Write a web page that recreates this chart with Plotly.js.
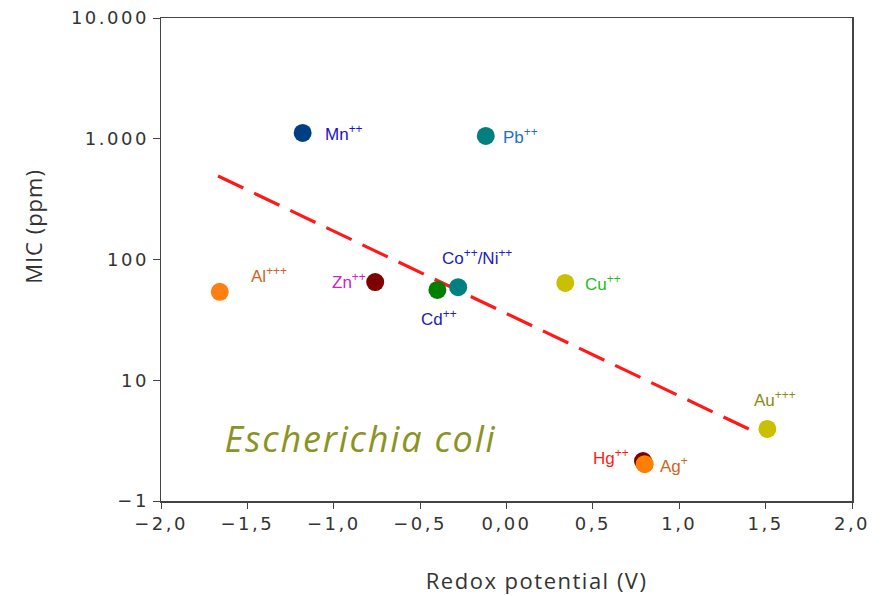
<!DOCTYPE html>
<html>
<head>
<meta charset="utf-8">
<script src="https://cdn.plot.ly/plotly-3.0.1.min.js"></script>
<style>
html,body{margin:0;padding:0;background:#fff;}
#chart{width:890px;height:596px;}
.xtick text, .ytick text {letter-spacing:2.5px;}
</style>
</head>
<body>
<div id="chart"></div>
<script>
// Data
var metals = ["Mn", "Pb", "Al", "Zn", "Cd", "Co/Ni", "Cu", "Au", "Hg", "Ag"];
var labels = ["Mn<sup>++</sup>", "Pb<sup>++</sup>", "Al<sup>+++</sup>", "Zn<sup>++</sup>", "Cd<sup>++</sup>",
              "Co<sup>++</sup>/Ni<sup>++</sup>", "Cu<sup>++</sup>", "Au<sup>+++</sup>", "Hg<sup>++</sup>", "Ag<sup>+</sup>"];
var redox = [-1.18, -0.12, -1.66, -0.76, -0.40, -0.28, 0.34, 1.51, 0.79, 0.80];
var mic = [1117, 1055, 54, 65, 56, 59, 64, 3.95, 2.14, 2.02];
var markerColors = ["#013f85", "#007f7e", "#ff8010", "#7f0000", "#007f00", "#008080", "#c8c000", "#c8c000", "#7a0000", "#ff8000"];
var labelColors = ["#1a10d0", "#1f6fd0", "#c8641e", "#cc20cc", "#1a20c0", "#1a20c0", "#20c020", "#8a8a10", "#ff1a1a", "#d0641e"];
var trendX = [-1.67, 1.414];
var trendY = [492, 3.87];
var xTickVals = [-2, -1.5, -1, -0.5, 0, 0.5, 1, 1.5, 2];
var xTickText = ["\u22122,0", "\u22121,5", "\u22121,0", "\u22120,5", "0,00", "0,5", "1,0", "1,5", "2,0"];
var yTickVals = [1, 10, 100, 1000, 10000];
var yTickText = ["\u22121", "10", "100", "1.000", "10.000"];

// label offsets (style only)
var offsets = [
  {xa:"left", xs:20, ys:0},
  {xa:"left", xs:15, ys:0},
  {xa:"left", xs:29, ys:17},
  {xa:"right", xs:-7, ys:1},
  {xa:"center", xs:2, ys:-28},
  {xa:"center", xs:19, ys:30},
  {xa:"left", xs:18, ys:0},
  {xa:"center", xs:8, ys:30},
  {xa:"right", xs:-12, ys:4},
  {xa:"left", xs:13, ys:-1}
];

var annotations = metals.map(function(m, i){
  return {
    x: redox[i], y: Math.log10(mic[i]), xref:"x", yref:"y",
    text: labels[i], showarrow:false,
    xanchor: offsets[i].xa, yanchor:"middle",
    xshift: offsets[i].xs, yshift: offsets[i].ys,
    font: {family:"Liberation Sans, Arial, sans-serif", size:17, color: labelColors[i]}
  };
});
annotations.push({
  x: 0.11, y: 0.13, xref:"paper", yref:"paper", xanchor:"left", yanchor:"middle",
  text:"<i>Escherichia coli</i>", showarrow:false,
  font:{family:"Open Sans, sans-serif", size:36, color:"#8b9322"}
});
annotations.push({
  x: -0.185, y: 0.569, xref:"paper", yref:"paper", xanchor:"center", yanchor:"middle",
  text:"MIC (ppm)", textangle:-90, showarrow:false,
  font:{family:"Open Sans, sans-serif", size:22, color:"#333333"}
});
annotations.push({
  x: 0.543, y: -0.164, xref:"paper", yref:"paper", xanchor:"center", yanchor:"middle",
  text:"Redox potential (V)", showarrow:false,
  font:{family:"Open Sans, sans-serif", size:22, color:"#333333"}
});

var traces = [
  {
    x: trendX, y: trendY, mode:"lines", type:"scatter",
    line:{color:"#ff1a1a", width:3.2, dash:"28px,12px"}, hoverinfo:"skip"
  },
  {
    x: redox, y: mic, mode:"markers", type:"scatter", text: metals,
    marker:{size:18, color: markerColors, line:{width:0}}
  }
];

var axisFont = {family:"DejaVu Sans, sans-serif", size:18, color:"#333333"};
var layout = {
  width:890, height:596,
  margin:{l:161, r:38, t:18, b:95},
  paper_bgcolor:"#ffffff", plot_bgcolor:"#ffffff",
  showlegend:false,
  xaxis:{
    range:[-2, 2], tickvals:xTickVals, ticktext:xTickText,
    showgrid:false, zeroline:false, showline:true, mirror:true,
    linecolor:"#444", linewidth:1.5, ticks:"outside", ticklen:6, tickcolor:"#444",
    tickfont:axisFont
  },
  yaxis:{
    type:"log", range:[0, 4], tickvals:yTickVals, ticktext:yTickText,
    showgrid:false, zeroline:false, showline:true, mirror:true,
    linecolor:"#444", linewidth:1.5, ticks:"outside", ticklen:7, tickcolor:"#444",
    tickfont:axisFont
  },
  annotations: annotations
};

Plotly.newPlot("chart", traces, layout, {displayModeBar:false, staticPlot:true}).then(function(){
  document.querySelectorAll(".annotation-text").forEach(function(t){
    var s = t.textContent;
    if (s.indexOf("Escherichia") >= 0) t.style.letterSpacing = "1.8px";
    if (s.indexOf("MIC") >= 0) t.style.letterSpacing = "1px";
    if (s.indexOf("Redox") >= 0) t.style.letterSpacing = "1.5px";
  });
});
</script>
</body>
</html>
